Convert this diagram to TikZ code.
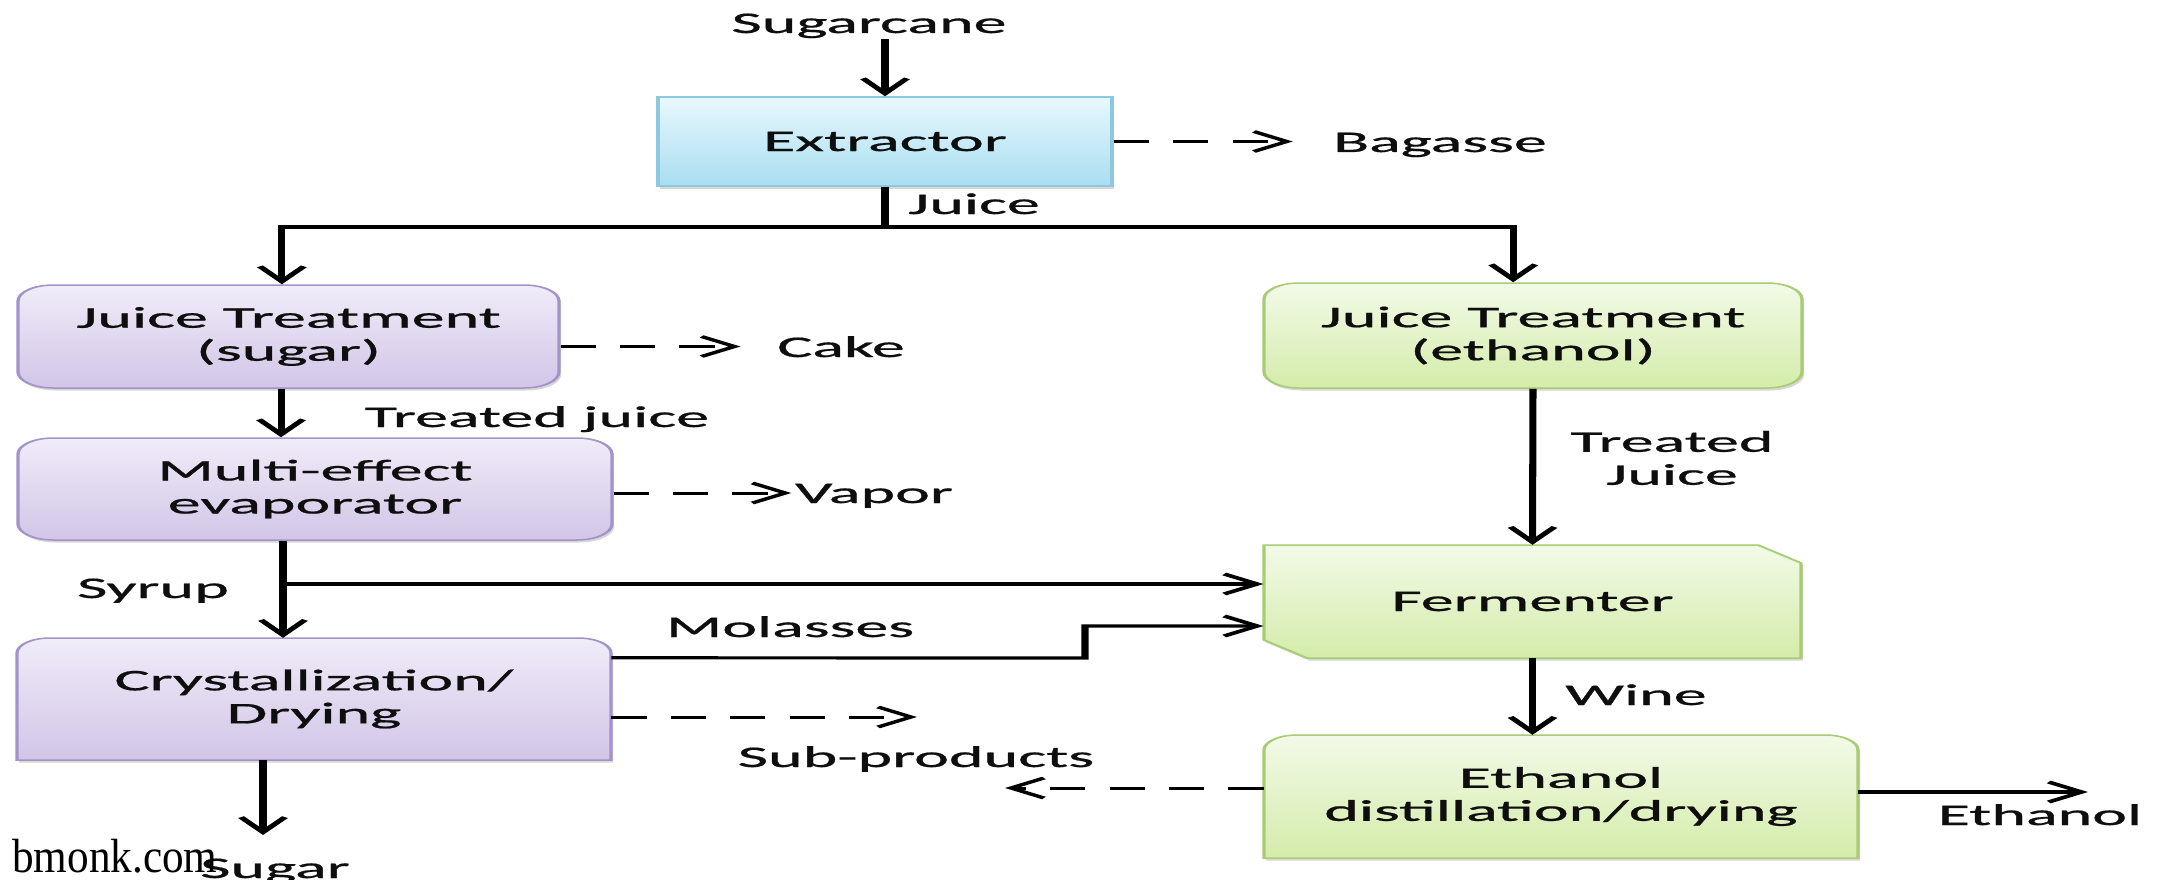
\documentclass[tikz,border=0pt]{standalone}
\usepackage{fontspec}
\setmainfont[FakeBold=0.6]{Carlito}
\newfontfamily\wmfont[FakeStretch=0.9]{Liberation Serif}
\usetikzlibrary{arrows.meta}
\definecolor{txt}{HTML}{0E0E0E}
\definecolor{bTop}{HTML}{E8F8FD}
\definecolor{bBot}{HTML}{A9DEF1}
\definecolor{bBd}{HTML}{8CC8DF}
\definecolor{pTop}{HTML}{F0ECF8}
\definecolor{pBot}{HTML}{D2C5E7}
\definecolor{pBd}{HTML}{A294CA}
\definecolor{gTop}{HTML}{F2FAE8}
\definecolor{gBot}{HTML}{D4ECAA}
\definecolor{gBd}{HTML}{A8CC74}
\tikzset{
  lbl/.style={font=\fontsize{30}{33}\selectfont, text=txt, inner sep=0.5pt, anchor=base},
  procbox/.style={font=\fontsize{30}{33}\selectfont, text=txt, inner sep=0pt, align=center},
  shad/.style={preaction={fill=black, opacity=0.16, transform canvas={xshift=1pt, yshift=-2.5pt}}},
  bluebox/.style={procbox, shad, draw=bBd, line width=1.5pt, top color=bTop, bottom color=bBot},
  purplebox/.style={procbox, shad, draw=pBd, line width=1.5pt, top color=pTop, bottom color=pBot, rounded corners=16pt},
  greenbox/.style={procbox, shad, draw=gBd, line width=1.5pt, top color=gTop, bottom color=gBot, rounded corners=16pt},
  pshape/.style={shad, draw=pBd, line width=1.5pt, top color=pTop, bottom color=pBot},
  gshape/.style={shad, draw=gBd, line width=1.5pt, top color=gTop, bottom color=gBot},
  conn/.style={draw=black, line width=3.2pt},
  arr/.style={conn, -{Straight Barb[length=15pt,width=20pt]}},
  darr/.style={arr, line width=3pt, dash pattern=on 16pt off 11pt},
}
\begin{document}
\begin{tikzpicture}[x=1pt,y=-1pt]
\useasboundingbox (0,0) rectangle (2164,880);
\fill[white] (0,0) rectangle (2164,880);
\begin{scope}[transform canvas={xscale=2.2}, x=0.4545454pt]
  % custom shapes (drawn first, text nodes on top)
  \draw[pshape] (17,760) -- (17,653) arc[start angle=180,end angle=90,radius=15pt] -- (578,638) arc[start angle=90,end angle=0,radius=15pt] -- (611,760) -- cycle;
  \draw[gshape] (1264,858) -- (1264,750) arc[start angle=180,end angle=90,radius=15pt] -- (1825,735) arc[start angle=90,end angle=0,radius=15pt] -- (1858,858) -- cycle;
  \draw[gshape] (1264,545) -- (1758,545) -- (1801,563) -- (1801,658) -- (1307,658) -- (1264,640) -- cycle;

  % process nodes
  \node[bluebox, minimum width=206.4pt, minimum height=89pt] (ext) at (885,141.5) {Extractor};
  \node[purplebox, minimum width=245.9pt, minimum height=103pt] (jts) at (288.5,336.5) {Juice Treatment\\(sugar)};
  \node[purplebox, minimum width=270pt, minimum height=102pt] (me) at (315,489) {Multi-effect\\evaporator};
  \node[procbox, minimum width=270pt, minimum height=122pt] (cry) at (314,699) {Crystallization/\\Drying};
  \node[greenbox, minimum width=244.5pt, minimum height=105pt] (jte) at (1533,335.5) {Juice Treatment\\(ethanol)};
  \node[procbox, minimum width=244.1pt, minimum height=113pt] (fer) at (1532.5,601.5) {Fermenter};
  \node[procbox, minimum width=270pt, minimum height=123pt] (dis) at (1561,796.5) {Ethanol\\distillation/drying};

  % labels
  \node[lbl] (sug) at (869,33) {Sugarcane};
  \node[lbl] (bag) at (1440,152) {Bagasse};
  \node[lbl] (jui) at (974,214) {Juice};
  \node[lbl] (cake) at (841,357) {Cake};
  \node[lbl] (tj1) at (537,427) {Treated juice};
  \node[lbl] (vap) at (874,503) {Vapor};
  \node[lbl] (syr) at (153,598) {Syrup};
  \node[lbl] (mol) at (790,637) {Molasses};
  \node[lbl] (sub) at (916,767) {Sub-products};
  \node[lbl] (sgr) at (275,878) {Sugar};
  \node[procbox] (tj2) at (1672,458) {Treated\\Juice};
  \node[lbl] (wine) at (1636,705) {Wine};
  \node[lbl] (eth) at (2040,825) {Ethanol};

  % coordinates
  \coordinate (split) at (885,227);
  \coordinate (syrb) at (283,584);
  \coordinate (stepA) at (1085,658);
  \coordinate (stepB) at (1085,626);
  \coordinate (subend) at (917,717);
  \coordinate (sugend) at (263,835);
  \coordinate (subleft) at (1005,788);
  \coordinate (ethend) at (2088,792);

  % connectors
  \draw[arr] (sug.south -| ext.north) -- (ext.north);
  \draw[darr, shorten >=17.7pt] (ext.east) -- (ext.east -| bag.west);
  \draw[conn] (ext.south) -- (split);
  \draw[arr] (split) -| ([xshift=-3pt]jts.north);
  \draw[arr] (split) -| ([xshift=-9pt]jte.north);
  \draw[darr, shorten >=16pt] ([yshift=-10pt]jts.east) -- ([yshift=-10pt]jts.east -| cake.west);
  \draw[arr] ([xshift=-3.4pt]jts.south) -- ([xshift=-3.4pt]jts.south |- me.north);
  \draw[darr, shorten >=1pt] ([yshift=-4pt]me.east) -- ([yshift=-4pt]me.east -| vap.west);
  \draw[arr] (me.south -| syrb) -- (cry.north -| syrb);
  \draw[arr] (syrb) -- (syrb -| fer.west);
  \draw[arr] ([yshift=-20pt]cry.north east) -- (stepA) -- (stepB) -- (stepB -| fer.west);
  \draw[darr] ([yshift=-18pt]cry.east) -- (subend);
  \draw[arr] (cry.south -| sugend) -- (sugend);
  \draw[arr] (jte.south) -- (fer.north);
  \draw[arr] (fer.south) -- (fer.south |- dis.north);
  \draw[darr] ([yshift=8.5pt]dis.west) -- (subleft);
  \draw[arr] ([yshift=4.5pt]dis.east) -- (ethend);
\end{scope}
\node[font=\wmfont\fontsize{48}{48}\selectfont, text=black, anchor=base west, inner sep=0pt] (wm) at (12,872) {bmonk.com};
\end{tikzpicture}
\end{document}
